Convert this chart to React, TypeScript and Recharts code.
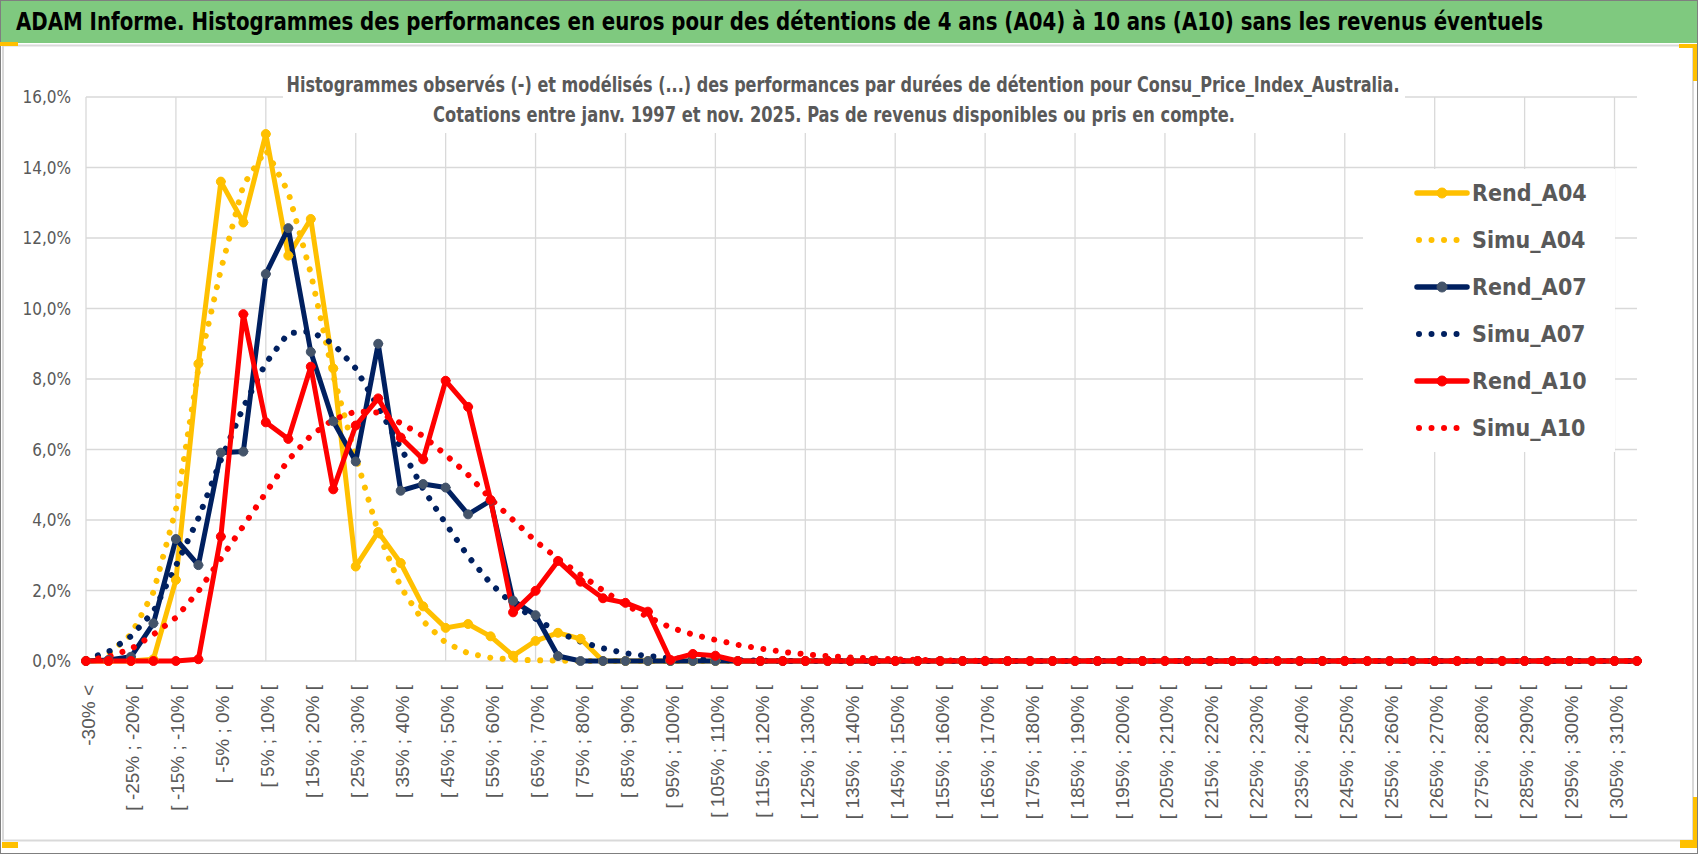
import React from 'react'
import { LineChart, Line, XAxis, YAxis, CartesianGrid } from 'recharts'

const W = 1698
const H = 854
const NARROW = "'Liberation Sans Narrow', 'DejaVu Sans Condensed', 'Liberation Sans', sans-serif"
const SANS = "'Liberation Sans', Arial, sans-serif"
const GREY = '#595959'

// 70 classes de 5 points : "-30% <" puis "[ -30% ; -25% [" ... "[ 310% ; 315% ["
const CATEGORIES = [
  '-30% <',
  ...Array.from({ length: 69 }, (_, i) => `[ ${-30 + 5 * i}% ; ${-25 + 5 * i}% [`)
]

const Y_TICKS = [0, 2, 4, 6, 8, 10, 12, 14, 16]
const GRID_EVERY = 4

const pad = (v: number[]) => [...v, ...Array(CATEGORIES.length - v.length).fill(0)]

// valeurs en %
const REND_A04 = pad([
  0, 0, 0, 0.05, 2.3, 8.43, 13.6, 12.44, 14.95, 11.5, 12.54, 8.3, 2.68, 3.66, 2.78,
  1.55, 0.94, 1.05, 0.7, 0.15, 0.57, 0.8, 0.63, 0
])
const SIMU_A04 = pad([
  0.03, 0.2, 0.75, 1.95, 4.3, 8.3, 11.1, 13.5, 14.5, 13.3, 11.0, 8.1, 5.8, 3.65, 2.1,
  1.13, 0.52, 0.22, 0.09, 0.04, 0.02, 0.01
])
const REND_A07 = pad([
  0, 0.03, 0.12, 1.07, 3.46, 2.72, 5.91, 5.94, 10.98, 12.28, 8.77, 6.8, 5.66, 9.0, 4.83,
  5.02, 4.92, 4.16, 4.55, 1.71, 1.3, 0.14, 0
])
const SIMU_A07 = pad([
  0.05, 0.26, 0.7, 1.4, 2.7, 4.05, 5.7, 7.2, 8.45, 9.3, 9.35, 9.0, 8.3, 7.2, 6.05,
  4.88, 3.9, 2.97, 2.2, 1.6, 1.2, 0.82, 0.55, 0.36, 0.22, 0.14, 0.08, 0.05, 0.03, 0.02,
  0.01
])
const REND_A10 = pad([
  0, 0, 0, 0, 0, 0.05, 3.53, 9.84, 6.77, 6.3, 8.35, 4.87, 6.68, 7.45, 6.34,
  5.72, 7.95, 7.21, 4.57, 1.38, 1.99, 2.84, 2.25, 1.78, 1.65, 1.4, 0.03, 0.2, 0.15, 0
])
const SIMU_A10 = pad([
  0.02, 0.12, 0.34, 0.75, 1.23, 1.98, 2.9, 3.83, 4.77, 5.7, 6.39, 6.85, 7.08, 7.05, 6.75,
  6.38, 5.85, 5.28, 4.6, 4.0, 3.4, 2.9, 2.45, 2.0, 1.6, 1.25, 0.95, 0.75, 0.6, 0.46,
  0.35, 0.26, 0.19, 0.14, 0.1, 0.07, 0.05, 0.03, 0.02, 0.01
])

const SERIES = [
  { key: 'Rend_A04', values: REND_A04, color: '#FFC000', marker: '#FFC000', dotted: false },
  { key: 'Simu_A04', values: SIMU_A04, color: '#FFC000', marker: '#FFC000', dotted: true },
  { key: 'Rend_A07', values: REND_A07, color: '#002060', marker: '#44546A', dotted: false },
  { key: 'Simu_A07', values: SIMU_A07, color: '#002060', marker: '#002060', dotted: true },
  { key: 'Rend_A10', values: REND_A10, color: '#FF0000', marker: '#FF0000', dotted: false },
  { key: 'Simu_A10', values: SIMU_A10, color: '#FF0000', marker: '#FF0000', dotted: true }
]

const data = CATEGORIES.map((name, i) => {
  const row: any = { name }
  SERIES.forEach((s) => { row[s.key] = s.values[i] })
  return row
})

const TITLE = 'ADAM Informe. Histogrammes des performances en euros pour des détentions de 4 ans (A04) à 10 ans (A10) sans les revenus éventuels'
const SUBTITLE_1 = 'Histogrammes observés (-) et modélisés (...) des performances par durées de détention pour Consu_Price_Index_Australia.'
const SUBTITLE_2 = 'Cotations entre janv. 1997 et nov. 2025. Pas de revenus disponibles ou pris en compte.'

const formatPct = (v: number) => v.toFixed(1).replace('.', ',') + '%'

const DOTS = '0.01 12.5'

function XTick({ x, payload }: any) {
  const tx = x + 2
  const ty = 685
  return (
    <text
      x={tx}
      y={ty}
      transform={`rotate(-90 ${tx} ${ty})`}
      textAnchor="end"
      dominantBaseline="central"
      fill={GREY}
      fontSize={19}
      fontFamily={SANS}
    >
      {payload.value}
    </text>
  )
}

function Overlay() {
  const lx = 1417
  return (
    <svg width={W} height={H} style={{ position: 'absolute', left: 0, top: 0, pointerEvents: 'none' }}>
      {/* cadre */}
      <rect x={0.5} y={0.5} width={W - 1} height={H - 1} fill="none" stroke="#7F7F7F" />
      <rect x={3} y={45.5} width={1690} height={795} fill="none" stroke="#D9D9D9" strokeWidth={2} />
      <rect x={1} y={1} width={W - 2} height={42} fill="#7FC97F" />
      <rect x={0} y={42} width={18} height={4} fill="#FFC000" />
      <rect x={1679} y={44} width={18} height={4} fill="#FFC000" />
      <rect x={1693} y={44} width={4} height={37} fill="#FFC000" />
      <rect x={1693} y={797} width={4} height={51} fill="#FFC000" />
      <rect x={1680} y={840} width={17} height={8} fill="#FFC000" />
      <rect x={2} y={842} width={16} height={6} fill="#FFC000" />
      <text x={16} y={30} fontSize={24} fontWeight="bold" fontFamily={NARROW} fill="#000"
        textLength={1527} lengthAdjust="spacingAndGlyphs">{TITLE}</text>

      {/* titre du graphique */}
      <rect x={283} y={47} width={1122} height={86} fill="#fff" />
      <text x={843} y={92} textAnchor="middle" fontSize={22} fontWeight="bold" fontFamily={NARROW}
        fill={GREY} textLength={1113} lengthAdjust="spacingAndGlyphs">{SUBTITLE_1}</text>
      <text x={834} y={122} textAnchor="middle" fontSize={22} fontWeight="bold" fontFamily={NARROW}
        fill={GREY} textLength={802} lengthAdjust="spacingAndGlyphs">{SUBTITLE_2}</text>

      {/* légende */}
      <rect x={1363} y={169} width={252} height={283} fill="#fff" />
      {SERIES.map((s, i) => {
        const cy = 193 + i * 47
        return (
          <g key={s.key}>
            {s.dotted ? (
              <line x1={lx + 2} y1={cy} x2={s.key === 'Simu_A10' ? lx + 52 : lx + 40} y2={cy} stroke={s.color}
                strokeWidth={6} strokeDasharray={DOTS} strokeLinecap="round" />
            ) : (
              <>
                <line x1={lx} y1={cy} x2={lx + 50} y2={cy} stroke={s.color} strokeWidth={5.5} strokeLinecap="round" />
                <circle cx={lx + 25} cy={cy} r={5} fill={s.marker} stroke={s.marker} />
              </>
            )}
            <text x={1472} y={cy + 8} fontSize={23} fontWeight="bold" fontFamily={NARROW} fill={GREY}>
              {s.key}
            </text>
          </g>
        )
      })}
    </svg>
  )
}

export default function App() {
  return (
    <div style={{ position: 'relative', width: W, height: H, background: '#fff' }}>
      <style>{'body{margin:0}'}</style>
      <LineChart
        width={W}
        height={H}
        data={data}
        margin={{ top: 97, right: 61, bottom: 8, left: 6 }}
      >
        <CartesianGrid
          stroke="#D9D9D9"
          strokeWidth={1.3}
          verticalCoordinatesGenerator={({ offset }: any) =>
            CATEGORIES.map((_, i) => i)
              .filter((i) => i % GRID_EVERY === 0)
              .map((i) => offset.left + (i * offset.width) / (CATEGORIES.length - 1))
          }
        />
        <XAxis
          dataKey="name"
          interval={1}
          axisLine={false}
          tickLine={false}
          height={185}
          tick={<XTick />}
        />
        <YAxis
          domain={[0, 16]}
          ticks={Y_TICKS}
          interval={0}
          width={80}
          axisLine={false}
          tickLine={false}
          tickMargin={9}
          tickFormatter={formatPct}
          tick={{ fill: GREY, fontSize: 17, fontFamily: NARROW }}
        />
        {SERIES.map((s) => (
          <Line
            key={s.key}
            type="linear"
            dataKey={s.key}
            stroke={s.color}
            strokeWidth={s.dotted ? 6 : 5}
            strokeDasharray={s.dotted ? DOTS : undefined}
            strokeLinecap="round"
            strokeLinejoin="round"
            dot={s.dotted ? false : { r: 4.5, fill: s.marker, stroke: s.marker, strokeWidth: 1 }}
            activeDot={false}
            isAnimationActive={false}
          />
        ))}
      </LineChart>
      <Overlay />
    </div>
  )
}
